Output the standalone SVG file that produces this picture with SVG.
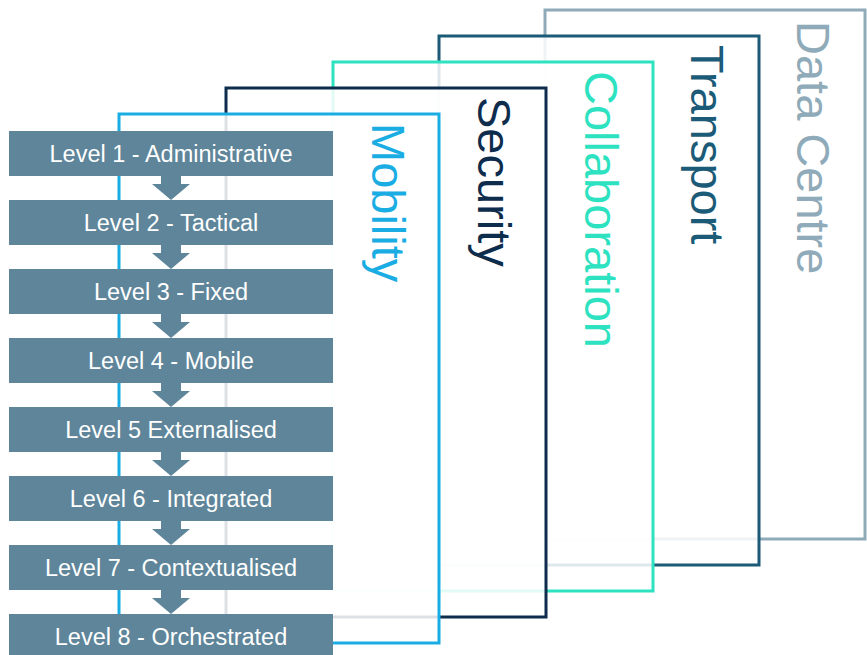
<svg xmlns="http://www.w3.org/2000/svg" width="867" height="655" viewBox="0 0 867 655">
<style>
.panel{fill:#fff;fill-opacity:0.86;stroke-width:3}
.ptxt{font-family:"Liberation Sans",Arial,sans-serif;font-size:47px}
.lvl{fill:#5E8599}
.ltxt{font-family:"Liberation Sans",Arial,sans-serif;font-size:23.5px;fill:#fff;text-anchor:middle}
.arr{fill:#5E8599}
</style>
<rect width="867" height="655" fill="#fff"/>
<g id="panel-datacentre">
<rect class="panel" x="545" y="10" width="320" height="529" stroke="#8FAAB9"/>
<text class="ptxt" fill="#8FAAB9" transform="translate(797,21) rotate(90)">Data Centre</text>
</g>
<g id="panel-transport">
<rect class="panel" x="439" y="36" width="320" height="529" stroke="#1B5B77"/>
<text class="ptxt" fill="#1B5B77" transform="translate(691,45) rotate(90)">Transport</text>
</g>
<g id="panel-collaboration">
<rect class="panel" x="333" y="62" width="320" height="529" stroke="#2DE2C0"/>
<text class="ptxt" fill="#2DE2C0" transform="translate(585,71) rotate(90)">Collaboration</text>
</g>
<g id="panel-security">
<rect class="panel" x="226" y="88" width="320" height="529" stroke="#0E2C4C"/>
<text class="ptxt" fill="#0E2C4C" transform="translate(478,97) rotate(90)">Security</text>
</g>
<g id="panel-mobility">
<rect class="panel" x="119" y="114" width="320" height="529" stroke="#1AADE4"/>
<text class="ptxt" fill="#1AADE4" transform="translate(372,123) rotate(90)">Mobility</text>
</g>
<g id="connectors">
<path class="arr" d="M161,176 h20 v8 h9 l-19,16 l-19,-16 h9 z"/>
<path class="arr" d="M161,245 h20 v8 h9 l-19,16 l-19,-16 h9 z"/>
<path class="arr" d="M161,314 h20 v8 h9 l-19,16 l-19,-16 h9 z"/>
<path class="arr" d="M161,383 h20 v8 h9 l-19,16 l-19,-16 h9 z"/>
<path class="arr" d="M161,452 h20 v8 h9 l-19,16 l-19,-16 h9 z"/>
<path class="arr" d="M161,521 h20 v8 h9 l-19,16 l-19,-16 h9 z"/>
<path class="arr" d="M161,590 h20 v8 h9 l-19,16 l-19,-16 h9 z"/>
</g>
<g id="level1"><rect class="lvl" x="9" y="131" width="324" height="45"/><text class="ltxt" x="171" y="162">Level 1 - Administrative</text></g>
<g id="level2"><rect class="lvl" x="9" y="200" width="324" height="45"/><text class="ltxt" x="171" y="231">Level 2 - Tactical</text></g>
<g id="level3"><rect class="lvl" x="9" y="269" width="324" height="45"/><text class="ltxt" x="171" y="300">Level 3 - Fixed</text></g>
<g id="level4"><rect class="lvl" x="9" y="338" width="324" height="45"/><text class="ltxt" x="171" y="369">Level 4 - Mobile</text></g>
<g id="level5"><rect class="lvl" x="9" y="407" width="324" height="45"/><text class="ltxt" x="171" y="438">Level 5 Externalised</text></g>
<g id="level6"><rect class="lvl" x="9" y="476" width="324" height="45"/><text class="ltxt" x="171" y="507">Level 6 - Integrated</text></g>
<g id="level7"><rect class="lvl" x="9" y="545" width="324" height="45"/><text class="ltxt" x="171" y="576">Level 7 - Contextualised</text></g>
<g id="level8"><rect class="lvl" x="9" y="614" width="324" height="45"/><text class="ltxt" x="171" y="645">Level 8 - Orchestrated</text></g>
</svg>
